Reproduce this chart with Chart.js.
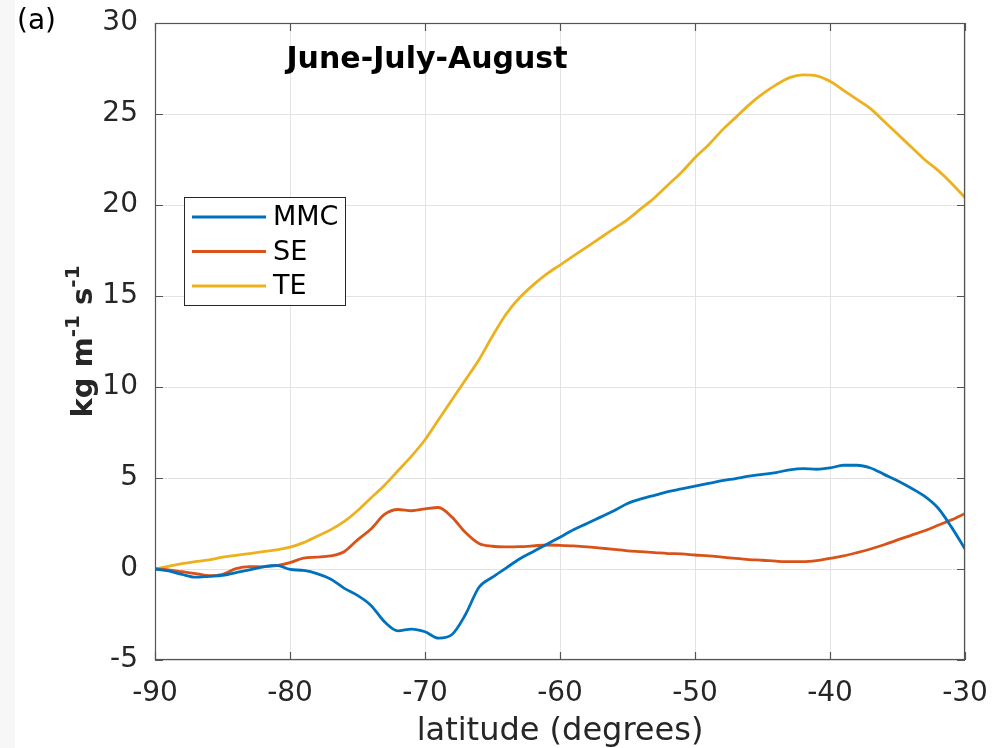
<!DOCTYPE html>
<html>
<head>
<meta charset="utf-8">
<script src="https://cdn.jsdelivr.net/npm/chart.js@4.4.1/dist/chart.umd.min.js"></script>
<style>
    html, body { margin: 0; padding: 0; background: #ffffff; }
    canvas { display: block; }
</style>
</head>
<body>
<canvas id="fluxChart" width="1003" height="748"></canvas>
<script>
// latitude (degrees)
const latitude = [-90, -89, -88, -87, -86, -85, -84, -83, -82, -81,
    -80, -79, -78, -77, -76, -75, -74, -73, -72, -71,
    -70, -69, -68, -67, -66, -65, -64, -63, -62, -61,
    -60, -59, -58, -57, -56, -55, -54, -53, -52, -51,
    -50, -49, -48, -47, -46, -45, -44, -43, -42, -41,
    -40, -39, -38, -37, -36, -35, -34, -33, -32, -31, -30];

// kg m-1 s-1
const mmc = [0, -0.1, -0.3, -0.45, -0.4, -0.35, -0.2, -0.05, 0.12, 0.2,
    -0.02, -0.08, -0.25, -0.55, -1.05, -1.45, -2.0, -2.9, -3.4, -3.3,
    -3.45, -3.8, -3.6, -2.5, -1.0, -0.45, 0.05, 0.55, 0.95, 1.35,
    1.75, 2.15, 2.5, 2.85, 3.2, 3.6, 3.85, 4.05, 4.25, 4.4,
    4.55, 4.7, 4.85, 4.97, 5.1, 5.2, 5.3, 5.45, 5.52, 5.48,
    5.55, 5.7, 5.7, 5.55, 5.2, 4.85, 4.45, 4.0, 3.35, 2.3, 1.1];

const se = [0, -0.05, -0.15, -0.25, -0.37, -0.3, 0.02, 0.13, 0.12, 0.18,
    0.35, 0.6, 0.65, 0.72, 0.95, 1.6, 2.2, 3.0, 3.27, 3.2,
    3.3, 3.38, 2.85, 2.0, 1.4, 1.25, 1.22, 1.23, 1.27, 1.32,
    1.3, 1.27, 1.22, 1.15, 1.08, 1.0, 0.95, 0.9, 0.85, 0.83,
    0.77, 0.72, 0.65, 0.58, 0.52, 0.48, 0.43, 0.4, 0.4, 0.46,
    0.59, 0.72, 0.9, 1.1, 1.33, 1.6, 1.85, 2.1, 2.4, 2.7, 3.05];

const te = [0, 0.15, 0.3, 0.4, 0.5, 0.65, 0.75, 0.85, 0.95, 1.05,
    1.2, 1.45, 1.8, 2.15, 2.6, 3.2, 3.9, 4.6, 5.4, 6.2,
    7.1, 8.2, 9.3, 10.4, 11.5, 12.8, 14.0, 14.9, 15.6, 16.2,
    16.7, 17.2, 17.7, 18.2, 18.7, 19.2, 19.8, 20.4, 21.1, 21.8,
    22.6, 23.3, 24.1, 24.8, 25.5, 26.1, 26.6, 27.0, 27.15, 27.1,
    26.8, 26.3, 25.8, 25.3, 24.6, 23.9, 23.2, 22.5, 21.9, 21.2, 20.4];

const seriesNames = ['MMC', 'SE', 'TE'];
const seriesColors = ['#0072BD', '#D95319', '#EDB120'];
const xTicks = [-90, -80, -70, -60, -50, -40, -30];
const yTicks = [-5, 0, 5, 10, 15, 20, 25, 30];

const FONT = "'DejaVu Sans', 'Liberation Sans', sans-serif";
const TEXT = '#262626';

function toPoints(values) {
    return latitude.map((lat, i) => ({ x: lat, y: values[i] }));
}

const datasets = [mmc, se, te].map((values, i) => ({
    label: seriesNames[i],
    data: toPoints(values),
    borderColor: seriesColors[i],
    backgroundColor: seriesColors[i],
    borderWidth: 2.8,
    pointRadius: 0,
    cubicInterpolationMode: 'monotone',
    fill: false
}));

// page background, box, inward ticks, title, y label, legend
const decorations = {
    id: 'decorations',
    beforeDraw(chart) {
        const ctx = chart.ctx;
        ctx.save();
        ctx.fillStyle = '#ffffff';
        ctx.fillRect(0, 0, chart.width, chart.height);
        ctx.fillStyle = '#f7f7f7';
        ctx.fillRect(0, 0, 15, chart.height);
        ctx.restore();
    },
    afterDraw(chart) {
        const ctx = chart.ctx;
        const area = chart.chartArea;
        const xs = chart.scales.x;
        const ys = chart.scales.y;
        ctx.save();

        // box
        ctx.strokeStyle = '#555555';
        ctx.lineWidth = 1.2;
        ctx.strokeRect(area.left + 0.5, area.top + 0.5, area.right - area.left - 1, area.bottom - area.top - 1);

        // inward ticks
        ctx.beginPath();
        xTicks.forEach(v => {
            const px = Math.round(xs.getPixelForValue(v)) + 0.5;
            ctx.moveTo(px, area.bottom); ctx.lineTo(px, area.bottom - 8);
            ctx.moveTo(px, area.top); ctx.lineTo(px, area.top + 8);
        });
        yTicks.forEach(v => {
            const py = Math.round(ys.getPixelForValue(v)) + 0.5;
            ctx.moveTo(area.left, py); ctx.lineTo(area.left + 8, py);
            ctx.moveTo(area.right, py); ctx.lineTo(area.right - 8, py);
        });
        ctx.stroke();

        // title inside plot
        ctx.fillStyle = '#000000';
        ctx.font = 'bold 30px ' + FONT;
        ctx.textAlign = 'center';
        ctx.textBaseline = 'middle';
        ctx.fillText('June-July-August', 427, 60);

        // panel letter
        ctx.font = '28px ' + FONT;
        ctx.textAlign = 'left';
        ctx.fillText('(a)', 17, 22);

        // y axis label with superscripts
        ctx.translate(82, (area.top + area.bottom) / 2);
        ctx.rotate(-Math.PI / 2);
        ctx.fillStyle = TEXT;
        const parts = [
            { t: 'kg m', sup: false }, { t: '-1', sup: true },
            { t: ' s', sup: false }, { t: '-1', sup: true }
        ];
        const big = 'bold 29px ' + FONT;
        const small = 'bold 20px ' + FONT;
        let total = 0;
        parts.forEach(p => { ctx.font = p.sup ? small : big; total += ctx.measureText(p.t).width; });
        let cx = -total / 2;
        ctx.textAlign = 'left';
        ctx.textBaseline = 'alphabetic';
        parts.forEach(p => {
            ctx.font = p.sup ? small : big;
            ctx.fillText(p.t, cx, p.sup ? -3 : 10);
            cx += ctx.measureText(p.t).width;
        });
        ctx.setTransform(1, 0, 0, 1, 0, 0);

        // legend
        const lx = 184.5, ly = 197.5, lw = 161, lh = 108;
        ctx.fillStyle = '#ffffff';
        ctx.fillRect(lx, ly, lw, lh);
        ctx.strokeStyle = '#262626';
        ctx.lineWidth = 1;
        ctx.strokeRect(lx, ly, lw, lh);
        ctx.font = '27px ' + FONT;
        ctx.textBaseline = 'middle';
        chart.data.datasets.forEach((ds, i) => {
            const rowY = 217 + i * 34.5;
            ctx.strokeStyle = ds.borderColor;
            ctx.lineWidth = 3;
            ctx.beginPath();
            ctx.moveTo(192, rowY);
            ctx.lineTo(266, rowY);
            ctx.stroke();
            ctx.fillStyle = '#000000';
            ctx.fillText(ds.label, 273, rowY + 1);
        });

        ctx.restore();
    }
};

const config = {
    type: 'line',
    data: { datasets: datasets },
    options: {
        responsive: false,
        animation: false,
        layout: { padding: { top: 23, right: 38, left: 0, bottom: 0 } },
        plugins: {
            legend: { display: false },
            tooltip: { enabled: false },
            title: { display: false }
        },
        scales: {
            x: {
                type: 'linear',
                min: -90,
                max: -30,
                afterBuildTicks: scale => { scale.ticks = xTicks.map(v => ({ value: v })); },
                afterFit: scale => {
                    scale.height = 88;
                    scale.paddingLeft = 0;
                    scale.paddingRight = 0;
                },
                grid: { color: '#e3e3e3', lineWidth: 1, drawTicks: false },
                border: { display: false },
                ticks: { color: TEXT, font: { family: FONT, size: 28 }, padding: 17, maxRotation: 0 },
                title: {
                    display: true,
                    text: 'latitude (degrees)',
                    color: TEXT,
                    font: { family: FONT, size: 32, lineHeight: 1.0 },
                    padding: { top: 0, bottom: 0 }
                }
            },
            y: {
                type: 'linear',
                min: -5,
                max: 30,
                afterBuildTicks: scale => { scale.ticks = yTicks.map(v => ({ value: v })); },
                afterFit: scale => {
                    scale.width = 155;
                    scale.paddingTop = 0;
                    scale.paddingBottom = 0;
                },
                grid: { color: '#e3e3e3', lineWidth: 1, drawTicks: false },
                border: { display: false },
                ticks: { color: TEXT, font: { family: FONT, size: 28 }, padding: 17 }
            }
        }
    },
    plugins: [decorations]
};

new Chart(document.getElementById('fluxChart'), config);
</script>
</body>
</html>
